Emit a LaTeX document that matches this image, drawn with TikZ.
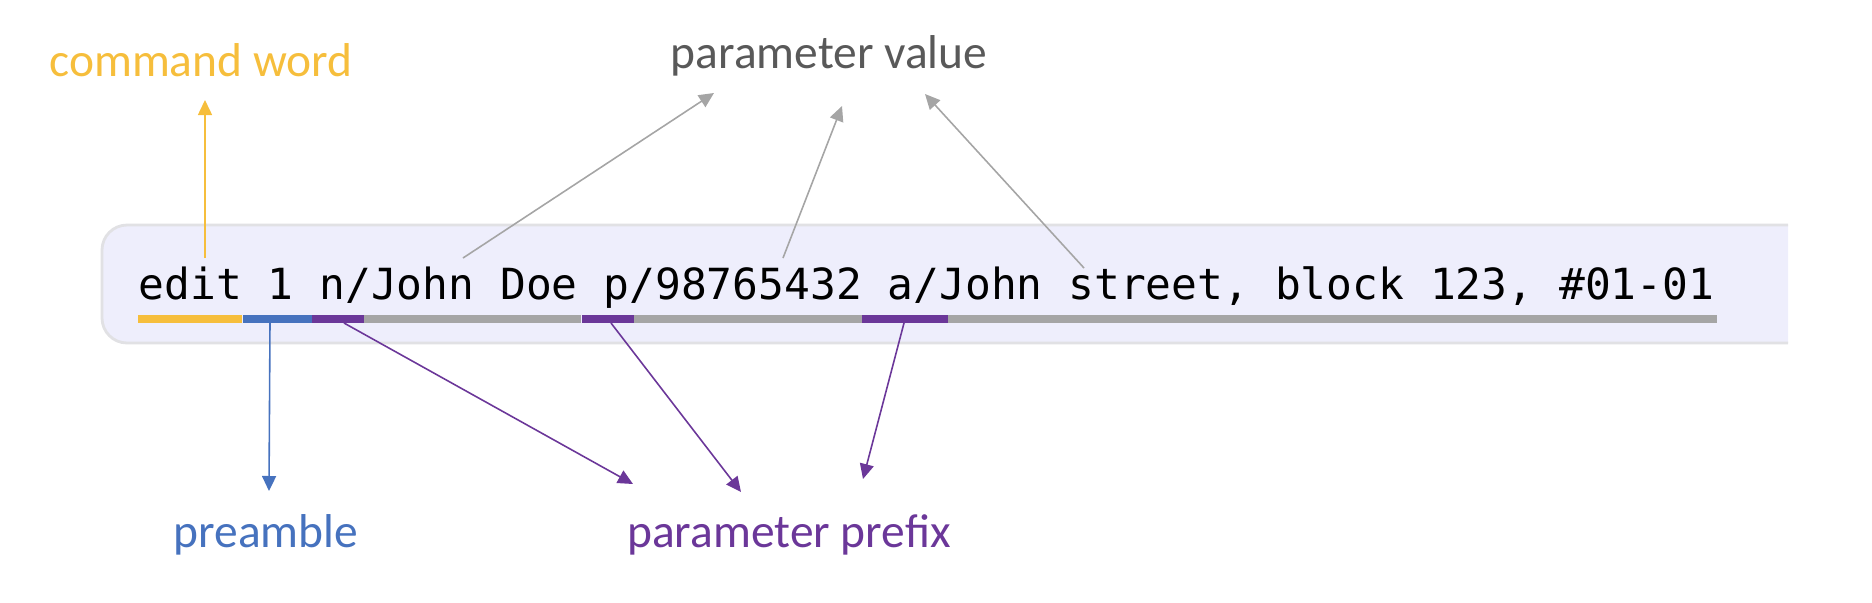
\documentclass[tikz,border=0pt]{standalone}
\usepackage{fontspec}
\setmainfont{Carlito}
\newfontfamily\codefont{DejaVu Sans Mono}
\usetikzlibrary{arrows.meta}

\definecolor{cmdyellow}{HTML}{F6BE3C}
\definecolor{preblue}{HTML}{4672BE}
\definecolor{prepurple}{HTML}{6B3799}
\definecolor{valgray}{HTML}{A5A5A5}
\definecolor{valtext}{HTML}{595959}
\definecolor{boxfill}{HTML}{EEEEFC}
\definecolor{boxline}{HTML}{E1E1E4}

\tikzset{
  lbl/.style={inner sep=0pt, font=\fontsize{13.5}{15}\selectfont},
  pointer/.style={->, line width=0.45pt}
}

\begin{document}
\begin{tikzpicture}[x=0.01cm, y=-0.01cm, >={Triangle[length=1.5mm, width=1.4mm]}]
  \useasboundingbox (0,0) rectangle (1872,602);
  % the command box (cut off on the right)
  \begin{scope}
    \clip (0,0) rectangle (1788,602);
    \draw[boxline, fill=boxfill, line width=0.8pt, rounded corners=2.5mm] (102,225) rectangle (1840,343);
  \end{scope}
  \node[inner sep=0pt, anchor=base west, font=\codefont\fontsize{12.2}{14}\selectfont] (cmd) at (138,299)
    {edit 1 n/John Doe p/98765432 a/John street, block 123, \#01-01};
  % coloured underlines
  \foreach \a/\b/\c in {138/242/cmdyellow, 243/312/preblue, 312/364/prepurple, 364/581/valgray,
                        582/634/prepurple, 634/862/valgray, 862/948/prepurple, 948/1717/valgray}
    \fill[\c] (\a,315) rectangle (\b,323);
  % labels
  \node[lbl, text=cmdyellow, anchor=base] (lblword) at (201,76) {command word};
  \node[lbl, text=valtext, anchor=base] (lblvalue) at (829,68) {parameter value};
  \node[lbl, text=preblue, anchor=base] (lblpre) at (266,547) {preamble};
  \node[lbl, text=prepurple, anchor=base] (lblprefix) at (789,547) {parameter prefix};
  % arrow ends
  \coordinate (w0) at (205,258);  \coordinate (w1) at (205,100);
  \coordinate (v0) at (463,258);  \coordinate (v1) at (714,93);
  \coordinate (v2) at (783,258);  \coordinate (v3) at (842,106);
  \coordinate (v4) at (1084,268); \coordinate (v5) at (925,94);
  \coordinate (b0) at (270,323);  \coordinate (b1) at (269,491);
  \coordinate (p0) at (344,323);  \coordinate (p1) at (633,484);
  \coordinate (p2) at (611,323);  \coordinate (p3) at (741,492);
  \coordinate (p4) at (904,323);  \coordinate (p5) at (863,479);
  % pointers
  \draw[pointer, cmdyellow] (w0) -- (w1);
  \draw[pointer, valgray] (v0) -- (v1);
  \draw[pointer, valgray] (v2) -- (v3);
  \draw[pointer, valgray] (v4) -- (v5);
  \draw[pointer, preblue] (b0) -- (b1);
  \draw[pointer, prepurple] (p0) -- (p1);
  \draw[pointer, prepurple] (p2) -- (p3);
  \draw[pointer, prepurple] (p4) -- (p5);
\end{tikzpicture}
\end{document}
